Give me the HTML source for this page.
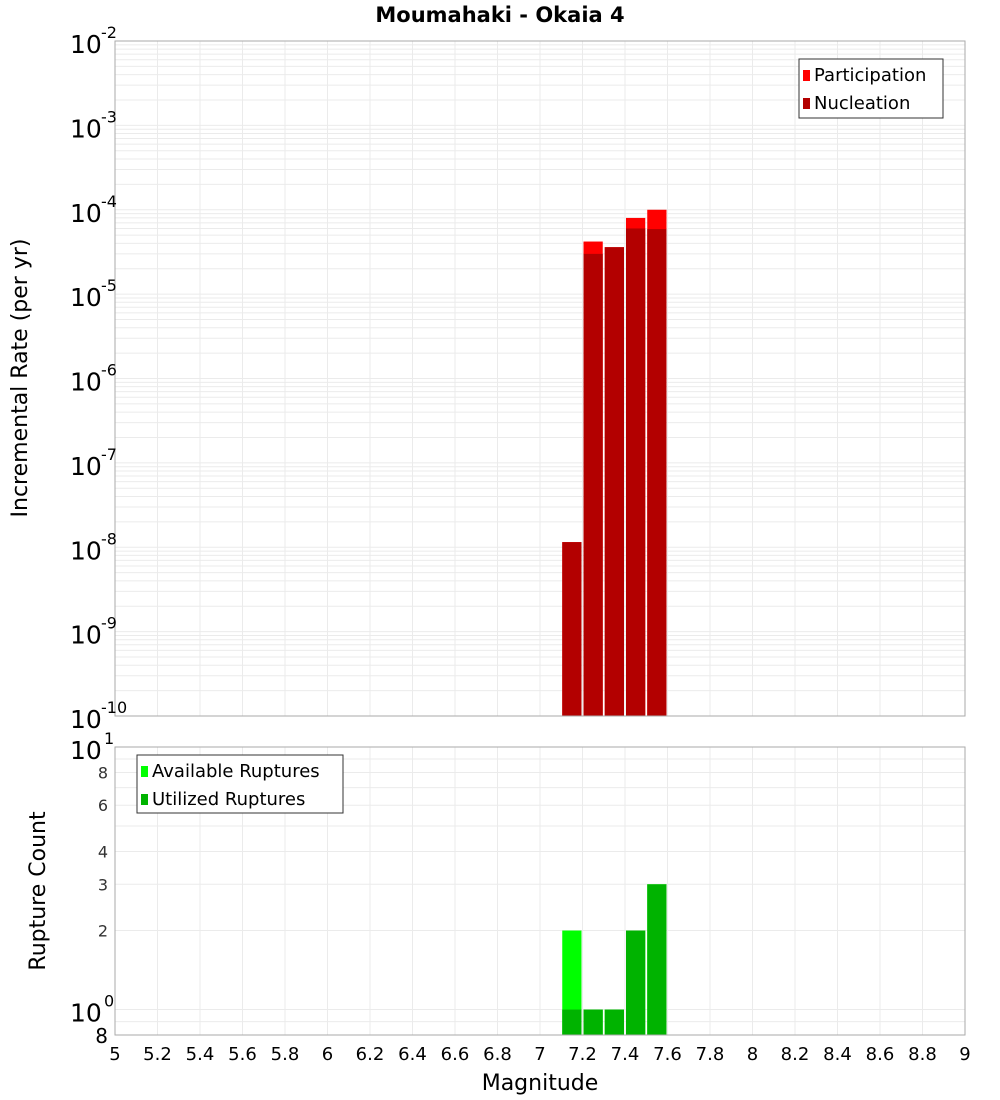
<!DOCTYPE html>
<html><head><meta charset="utf-8"><style>
body{margin:0;background:#fff;}
svg{display:block;font-family:"DejaVu Sans","Liberation Sans",sans-serif;}
</style></head><body>
<svg id="chart" width="1000" height="1100" viewBox="0 0 1000 1100" xmlns="http://www.w3.org/2000/svg">
<text x="500" y="22" text-anchor="middle" font-size="21" font-weight="bold">Moumahaki - Okaia 4</text>
<g id="topg"></g><g id="botg"></g>
<text transform="translate(27,378) rotate(-90)" text-anchor="middle" font-size="22">Incremental Rate (per yr)</text>
<text transform="translate(45,891) rotate(-90)" text-anchor="middle" font-size="22">Rupture Count</text>
<text x="540" y="1090" text-anchor="middle" font-size="22">Magnitude</text>
</svg>
<script>
const binStarts=[7.1,7.2,7.3,7.4,7.5];
const participation=[1.15e-8,4.2e-5,3.6e-5,8.0e-5,1.0e-4];
const nucleation=[1.15e-8,3.0e-5,3.6e-5,6.0e-5,5.9e-5];
const available=[2,1,1,2,3];
const utilized=[1,1,1,2,3];
const xTicks=[5,5.2,5.4,5.6,5.8,6,6.2,6.4,6.6,6.8,7,7.2,7.4,7.6,7.8,8,8.2,8.4,8.6,8.8,9];
const topExps=[-10,-9,-8,-7,-6,-5,-4,-3,-2];
const botTicks=[0.8,1,2,3,4,6,8,10];

const NS="http://www.w3.org/2000/svg";
const L=115,R=965;
const x=v=>L+(v-5)/4*(R-L);
const T0=41,T1=716;
const yT=v=>T1-(Math.log10(v)+10)/8*(T1-T0);
const B0=747,B1=1035,bmin=Math.log10(0.8),bmax=1;
const yB=v=>B1-(Math.log10(v)-bmin)/(bmax-bmin)*(B1-B0);
function el(p,t,a,txt){const e=document.createElementNS(NS,t);for(const k in a)e.setAttribute(k,a[k]);if(txt!==undefined)e.textContent=txt;p.appendChild(e);return e;}
const topG=document.getElementById('topg'),botG=document.getElementById('botg');

for(let e=-10;e<-2;e++)for(let m=1;m<10;m++){const yy=yT(m*Math.pow(10,e));
const g=el(topG,'line',{x1:L,x2:R,y1:yy,y2:yy,stroke:'#ebebeb','stroke-width':1});

}
for(const t of xTicks){const g=el(topG,'line',{x1:x(t),x2:x(t),y1:T0,y2:T1,stroke:'#ebebeb'});


const g2=el(botG,'line',{x1:x(t),x2:x(t),y1:B0,y2:B1,stroke:'#ebebeb'});

}
for(const v of [0.9,1,2,3,4,5,6,7,8,9]){const g=el(botG,'line',{x1:L,x2:R,y1:yB(v),y2:yB(v),stroke:'#ebebeb'});

}

binStarts.forEach((s,i)=>{const x0=x(s)+1,w=x(s+0.1)-x(s)-2;
const p=el(topG,'rect',{x:x0,y:yT(participation[i]),width:w,height:T1-yT(participation[i]),fill:'#ff0000'});


const n=el(topG,'rect',{x:x0,y:yT(nucleation[i]),width:w,height:T1-yT(nucleation[i]),fill:'#b30000'});


const a=el(botG,'rect',{x:x0,y:yB(available[i]),width:w,height:B1-yB(available[i]),fill:'#00ff00'});


const u=el(botG,'rect',{x:x0,y:yB(utilized[i]),width:w,height:B1-yB(utilized[i]),fill:'#00b300'});

});

el(topG,'rect',{x:L,y:T0,width:R-L,height:T1-T0,fill:'none',stroke:'#aaa'});
el(botG,'rect',{x:L,y:B0,width:R-L,height:B1-B0,fill:'none',stroke:'#aaa'});

for(const e of topExps){const yy=yT(Math.pow(10,e));
const t=el(topG,'text',{x:70,y:yy+12,'font-size':25},'10');


const s=el(topG,'text',{x:101,y:yy-3,'font-size':16},String(e));

}
for(const v of botTicks){const yy=yB(v);
if(v===1||v===10){const t=el(botG,'text',{x:70,y:yy+12,'font-size':25},'10');


const s=el(botG,'text',{x:104,y:yy-3,'font-size':16},v===1?'0':'1');

}
else{const big=v===0.8;const t=el(botG,'text',{x:108,y:yy+(big?8:6),'font-size':big?20:16,'text-anchor':'end',fill:big?'#000':'#333'},String(v===0.8?8:v));

}}
for(const t of xTicks){const e=el(botG,'text',{x:x(t),y:1060,'font-size':18,'text-anchor':'middle'},String(t));

}

function legend(p,x0,y0,w,h,items,name){const g=el(p,'g',{});


el(g,'rect',{x:x0,y:y0,width:w,height:h,fill:'#fff',stroke:'#333'});
items.forEach((it,i)=>{el(g,'rect',{x:x0+4,y:y0+11+i*28,width:7,height:11,fill:it[1]});
el(g,'text',{x:x0+15,y:y0+22+i*28,'font-size':18},it[0]);});}
legend(topG,799,59,144,59,[['Participation','#ff0000'],['Nucleation','#b30000']],'top-legend');
legend(botG,137,755,206,58,[['Available Ruptures','#00ff00'],['Utilized Ruptures','#00b300']],'bottom-legend');
</script>
</body></html>
